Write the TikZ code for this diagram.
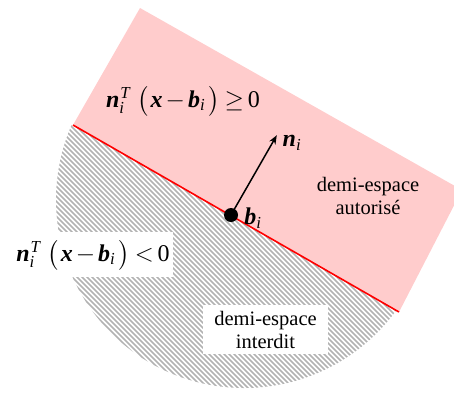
\documentclass[tikz,border=0pt]{standalone}
\usepackage{amsmath}
\usepackage{fontspec}
\setmainfont{Liberation Serif}
\usetikzlibrary{arrows.meta}
\definecolor{pinkfill}{RGB}{255,204,204}
\definecolor{hatchgray}{RGB}{178,178,178}
\newcommand\bv[1]{\textbf{\textit{#1}}}
\newcommand\myformula[1]{\bv{n}$_{\textit{i}}^{\kern1pt\textit{T}}$\kern7pt$\bigl($\kern2pt\bv{x}\kern3pt$-$\kern3pt\bv{b}$_{\textit{i}}$\kern3pt$\bigr)$\kern5pt#1\kern4pt0}
\tikzset{
  formula/.style={font=\fontsize{24}{28}\selectfont, inner sep=0pt},
  lbl/.style={font=\fontsize{20.5}{23}\selectfont, align=center, inner sep=0pt},
  whitebox/.style={fill=white, inner sep=0pt},
  vecl/.style={font=\fontsize{24}{28}\selectfont, inner sep=0pt},
  hatchline/.style={draw=hatchgray, line width=1.5pt},
  boundary/.style={draw=red, line width=1.6pt},
  normalarrow/.style={line width=1.5pt, -{Stealth[length=9pt,width=7pt]}},
}
\begin{document}
\begin{tikzpicture}[x=1pt,y=-1pt]
\useasboundingbox (0,0) rectangle (454,392);
% key points
\coordinate (A) at (73,125);
\coordinate (B) at (399,312);
\coordinate (C) at (140,8);
\coordinate (D) at (462,190);
\coordinate (O) at (244,200);
% allowed half-space
\fill[pinkfill] (A) -- (C) -- (D) -- (B) -- cycle;
% forbidden half-space (hatched circular segment)
\begin{scope}
  \clip (-187,-24) -- (659,461) -- (410,895) -- (-436,410) -- cycle;
  \clip (O) circle (188pt);
  \foreach \c in {-360,-355,...,300} {
    \draw[hatchline] (\c+80,80) -- (\c+420,420);
  }
\end{scope}
% boundary
\draw[boundary] (A) -- (B);
% labels
\node[formula] (f1) at (183,101) {\myformula{$\geq$}};
\node[whitebox, minimum width=161pt, minimum height=45pt] (box1) at (92.5,254.5) {};
\node[formula] (f2) at (93,255) {\myformula{$<$}};
\node[lbl] (auth) at (368,196) {demi-espace\\autorisé};
\node[whitebox, minimum width=125pt, minimum height=49pt] (box2) at (265.5,329.5) {};
\node[lbl] (forb) at (265.5,330) {demi-espace\\interdit};
% point and normal
\node[circle, fill=black, minimum size=14pt, inner sep=0pt] (b) at (231,215) {};
\coordinate (tip) at (276.8,135.2);
\draw[normalarrow] (b.center) -- (tip);
\node[vecl] (nlab) at (292,143) {\bv{n}$_{\textit{i}}$};
\node[vecl] (blab) at (253,218) {\bv{b}$_{\textit{i}}$};
\end{tikzpicture}
\end{document}
